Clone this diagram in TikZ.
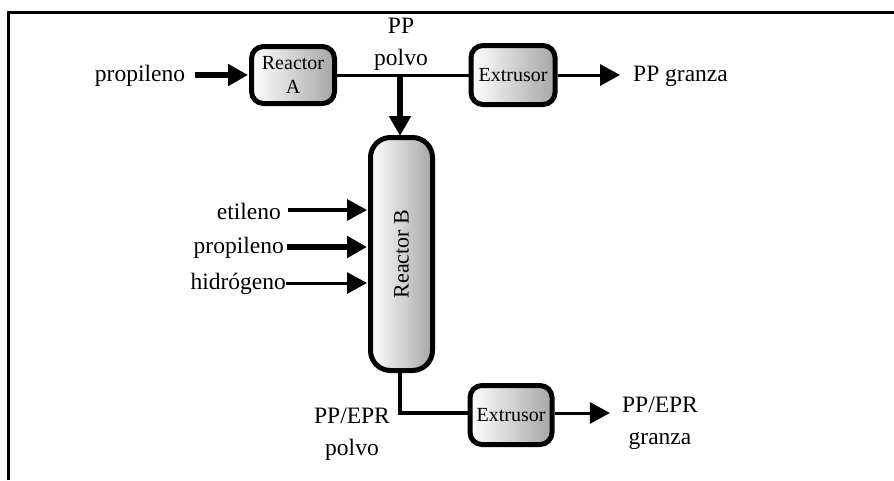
\documentclass[tikz,border=0pt]{standalone}
\usepackage{fontspec}
\setmainfont{Liberation Serif}
\usetikzlibrary{arrows.meta}
\tikzset{
  unit/.style={draw=black, line width=5pt, rounded corners=12pt,
    left color=white, right color=black!35, align=center,
    font=\fontsize{20}{24}\selectfont, inner sep=0pt},
  lbl/.style={font=\fontsize{23.5}{32}\selectfont, align=center, inner sep=0pt},
  tip/.style={-{Triangle[length=20pt,width=21pt]}},
  heavy/.style={line width=5.5pt, tip},
  light/.style={line width=3pt, tip},
  flow/.style={line width=3.5pt},
}
\begin{document}
\begin{tikzpicture}[x=1pt,y=-1pt]
\path[use as bounding box] (0,0) rectangle (894,480);
% frame (top and left edges only)
\draw[line width=3pt] (8,480) -- (8,12) -- (894,12);

% units
\node[unit, minimum width=83pt, minimum height=57pt] (A) at (293,75) {Reactor\\A};
\node[unit, minimum width=84pt, minimum height=59pt] (E1) at (513,75) {Extrusor};
\node[unit, minimum width=62pt, minimum height=233pt, rounded corners=20pt] (B) at (401.5,254) {};
\node[font=\fontsize{22}{26}\selectfont, rotate=90, inner sep=0pt] (Btxt) at (B.center) {Reactor B};
\node[unit, minimum width=82pt, minimum height=59pt] (E2) at (511,415) {Extrusor};

% labels
\node[lbl] (pA) at (140,76) {propileno};
\node[lbl] (ppp) at (401,44) {PP\\polvo};
\node[lbl, anchor=west] (ppg) at (633,76) {PP granza};
\node[lbl, anchor=east] (et) at (281,211) {etileno};
\node[lbl, anchor=east] (pB) at (284,248) {propileno};
\node[lbl, anchor=east] (hi) at (286,284) {hidrógeno};
\node[lbl] (epp) at (352,434) {PP/EPR\\polvo};
\node[lbl] (epg) at (660,423) {PP/EPR\\granza};

% coordinates
\coordinate (j1) at (400,75);
\coordinate (j2) at (400,413);

% connectors
\draw[heavy] ([xshift=10pt]pA.east |- A.west) -- ([xshift=-1pt]A.west);
\draw[flow, line width=3pt] (A.east) -- (E1.west);
\draw[heavy] (j1) -- ([yshift=-1pt]j1 |- B.north);
\draw[light] (E1.east) -- ([xshift=-13pt]ppg.west |- E1.east);
\draw[light, line width=3.5pt] ([xshift=7pt]et.east |- 0,210) -- ([xshift=-1pt]B.west |- 0,210);
\draw[heavy] ([xshift=3pt]pB.east |- 0,247) -- ([xshift=-1pt]B.west |- 0,247);
\draw[light] ([xshift=0pt]hi.east |- 0,283) -- ([xshift=-1pt]B.west |- 0,283);
\draw[flow] (B.south -| j2) -- (j2) -- (E2.west |- j2);
\draw[light] (E2.east |- j2) -- ([xshift=-12pt]epg.west |- j2);
\end{tikzpicture}
\end{document}
